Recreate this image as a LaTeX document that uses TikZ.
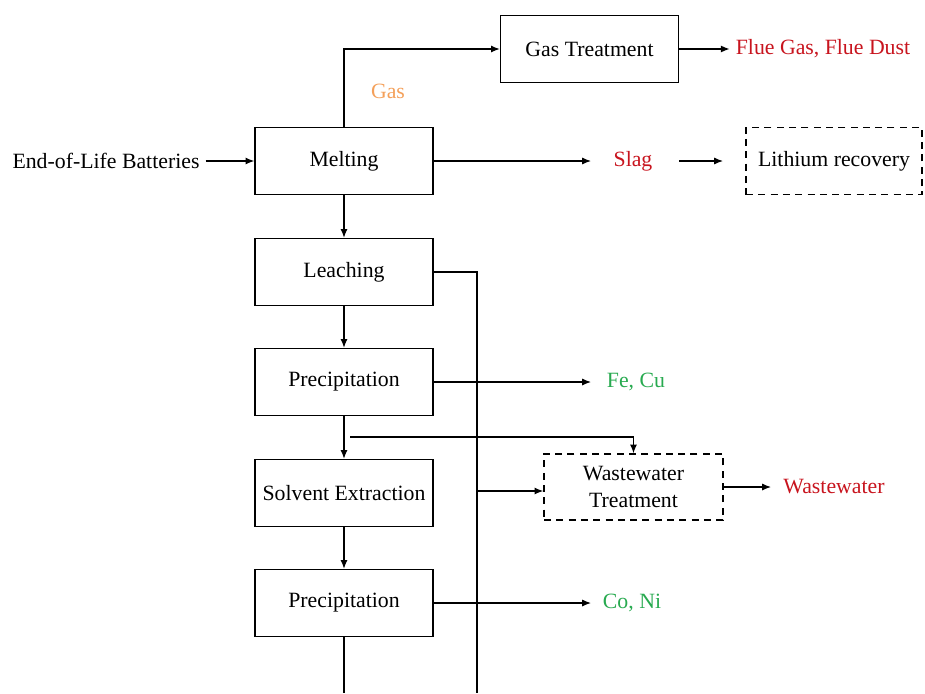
\documentclass[tikz,border=0pt]{standalone}
\usepackage{fontspec}
\setmainfont{Liberation Serif}
\usetikzlibrary{arrows.meta,calc}
\definecolor{outred}{RGB}{200,20,30}
\definecolor{outgreen}{RGB}{40,170,80}
\definecolor{gasorange}{RGB}{244,160,90}
\begin{document}
\begin{tikzpicture}[x=0.02cm,y=-0.02cm,
  font=\fontsize{12.4}{14}\selectfont,
  stepbox/.style={draw,line width=0.8pt,minimum width=178*0.02cm,minimum height=67*0.02cm,inner sep=2pt,align=center},
  optbox/.style={stepbox,dashed,dash pattern=on 4pt off 3pt},
  flow/.style={line width=0.7pt,-{Latex[length=5pt,width=4pt]}},
  plain/.style={line width=0.7pt}]
\useasboundingbox (0,0) rectangle (925,693);

% main process chain
\node[stepbox] (melt)  at (344,161) {Melting};
\node[stepbox] (leach) at (344,272) {Leaching};
\node[stepbox] (prec1) at (344,382) {Precipitation};
\node[stepbox] (solv)  at (344,493) {Solvent Extraction};
\node[stepbox] (prec2) at (344,603) {Precipitation};

% side treatments
\node[stepbox] (gast) at (589.5,49) {Gas Treatment};
\node[optbox,minimum width=176*0.02cm] (lirec) at (834,161) {Lithium recovery};
\node[optbox,minimum width=179*0.02cm,minimum height=66*0.02cm] (wwt) at (633.5,487) {Wastewater\\[1pt]Treatment};

% inputs and outputs
\node (eol) at (106,161) {End-of-Life Batteries};
\node[text=gasorange] (gas) at (388,91) {Gas};
\node[text=outred] (flue) at (823,49) {Flue Gas, Flue Dust};
\node[text=outred] (slag) at (633,161) {Slag};
\node[text=outgreen] (fecu) at (636,382) {Fe, Cu};
\node[text=outgreen] (coni) at (632,603) {Co, Ni};
\node[text=outred] (ww) at (834,487) {Wastewater};

% connectors of the main chain
\draw[flow] (eol.east) -- (melt.west);
\draw[flow] (melt.south) -- (leach.north);
\draw[flow] (leach.south) -- (prec1.north);
\draw[flow] (prec1.south) -- (solv.north);
\draw[flow] (solv.south) -- (prec2.north);
\coordinate (bottom) at (344,693);
\draw[plain] (prec2.south) -- (bottom);

% gas route
\draw[flow] (melt.north) |- (gast.west);
\draw[flow] (gast.east) -- (flue.west);

% slag route
\coordinate (slagin) at (591,161);
\draw[flow] (melt.east) -- (slagin);
\coordinate (slagout) at (679,161);
\coordinate (liin) at (723,161);
\draw[flow] (slagout) -- (liin);

% product outputs
\coordinate (fecuin) at (591,382);
\draw[flow] (prec1.east) -- (fecuin);
\coordinate (coniin) at (591,603);
\draw[flow] (prec2.east) -- (coniin);

% wastewater collection
\coordinate (bus) at (477,272);
\coordinate (busend) at (477,693);
\draw[plain] (leach.east) -- (bus) -- (busend);
\coordinate (busout) at (477,491);
\draw[flow] (busout) -- (wwt.west |- busout);
\coordinate (tap) at (350,437);
\draw[flow] (tap) -| (wwt.north);
\coordinate (wwin) at (771,487);
\draw[flow] (wwt.east) -- (wwin);
\end{tikzpicture}
\end{document}
